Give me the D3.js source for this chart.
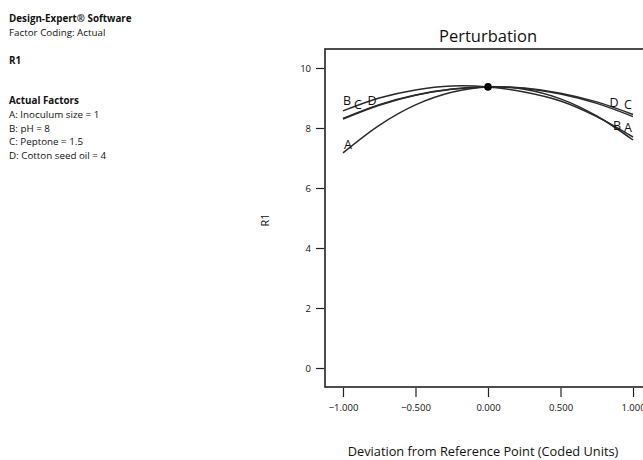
<!DOCTYPE html>
<html><head><meta charset="utf-8">
<script src="https://cdn.jsdelivr.net/npm/d3@7"></script>
<style>
html,body{margin:0;padding:0;background:#fff;}
text{font-family:"Open Sans","Noto Sans",sans-serif;fill:#111;}
</style></head>
<body><svg id="c" width="643" height="460"></svg>
<script>
const xs = [-1, -0.75, -0.5, -0.25, 0, 0.25, 0.5, 0.75, 1];
const seriesA = [7.17, 8.09, 8.77, 9.19, 9.37, 9.29, 8.97, 8.40, 7.60];
const seriesB = [8.57, 9.00, 9.27, 9.40, 9.37, 9.20, 8.90, 8.38, 7.70];
const seriesC = [8.30, 8.76, 9.09, 9.29, 9.37, 9.33, 9.16, 8.87, 8.45];
const seriesD = [8.32, 8.78, 9.10, 9.30, 9.37, 9.32, 9.13, 8.82, 8.38];
const seriesNames = ["A", "B", "C", "D"];
const refPoint = [0, 9.37];
const xTicks = [-1, -0.5, 0, 0.5, 1];
const yTicks = [0, 2, 4, 6, 8, 10];
const infoLines = [
  {t: "Design-Expert® Software", b: true},
  {t: "Factor Coding: Actual", b: false},
  {t: "R1", b: true},
  {t: "Actual Factors", b: true},
  {t: "A: Inoculum size = 1", b: false},
  {t: "B: pH = 8", b: false},
  {t: "C: Peptone = 1.5", b: false},
  {t: "D: Cotton seed oil = 4", b: false}
];
const infoY = [22, 36, 64, 104, 118, 132, 145, 159];

const svg = d3.select("#c");
const x = d3.scaleLinear().domain([-1.124, 1.124]).range([325, 651]);
const y = d3.scaleLinear().domain([-0.633, 10.633]).range([387, 49]);

// info text
svg.append("g").selectAll("text").data(infoLines).join("text")
  .attr("x", 9).attr("y", (d, i) => infoY[i])
  .attr("font-size", 9.8)
  .attr("font-weight", d => d.b ? 700 : 400)
  .text(d => d.t);

// frame
svg.append("rect").attr("x", x.range()[0]).attr("y", y.range()[1])
  .attr("width", x.range()[1] - x.range()[0]).attr("height", y.range()[0] - y.range()[1])
  .attr("fill", "none").attr("stroke", "#222").attr("stroke-width", 1.6);

// axes
const yAxis = d3.axisLeft(y).tickValues(yTicks).tickSize(8).tickPadding(5).tickFormat(d3.format("d"));
const gy = svg.append("g").attr("transform", `translate(${x.range()[0] - 1},0)`).call(yAxis);
gy.select(".domain").remove();
gy.selectAll("text").attr("font-size", 9.5).attr("font-family", "Open Sans");
gy.selectAll("line").attr("stroke", "#222").attr("stroke-width", 1.2);

const xAxis = d3.axisBottom(x).tickValues(xTicks).tickSize(9).tickPadding(7).tickFormat(d3.format(".3f"));
const gx = svg.append("g").attr("transform", `translate(0,${y.range()[0] + 1})`).call(xAxis);
gx.select(".domain").remove();
gx.selectAll("text").attr("font-size", 9.5).attr("font-family", "Open Sans");
gx.selectAll("line").attr("stroke", "#222").attr("stroke-width", 1.2);

// titles
svg.append("text").attr("x", 488).attr("y", 42).attr("text-anchor", "middle")
  .attr("font-size", 16.5).text("Perturbation");
svg.append("text").attr("x", 483).attr("y", 456).attr("text-anchor", "middle")
  .attr("font-size", 12.8).text("Deviation from Reference Point (Coded Units)");
svg.append("text").attr("transform", "translate(269,220) rotate(-90)").attr("text-anchor", "middle")
  .attr("font-size", 11).text("R1");

// curves
const allSeries = [seriesA, seriesB, seriesC, seriesD];
const line = d3.line().x(d => x(d[0])).y(d => y(d[1])).curve(d3.curveCatmullRom.alpha(0.5));
allSeries.forEach((s) => {
  svg.append("path").datum(xs.map((v, i) => [v, s[i]]))
    .attr("d", line).attr("fill", "none").attr("stroke", "#2a2a2a").attr("stroke-width", 1.5);
});

// labels near curve ends: [dx from end, dy from curve end]
const labelOffsets = {
  A: {l: [5, -4], r: [-5, -8]},
  B: {l: [4, -6], r: [-16, -7]},
  C: {l: [15, -10], r: [-5, -5]},
  D: {l: [29, -13], r: [-19, -10]}
};
seriesNames.forEach((n, k) => {
  const s = allSeries[k];
  const o = labelOffsets[n];
  svg.append("text").attr("x", x(xs[0]) + o.l[0]).attr("y", y(s[0]) + o.l[1])
    .attr("font-size", 12.5).attr("text-anchor", "middle").text(n);
  svg.append("text").attr("x", x(xs[xs.length - 1]) + o.r[0]).attr("y", y(s[s.length - 1]) + o.r[1])
    .attr("font-size", 12.5).attr("text-anchor", "middle").text(n);
});

// reference point
svg.append("circle").attr("cx", x(refPoint[0])).attr("cy", y(refPoint[1])).attr("r", 3.8).attr("fill", "#000");
</script></body></html>
